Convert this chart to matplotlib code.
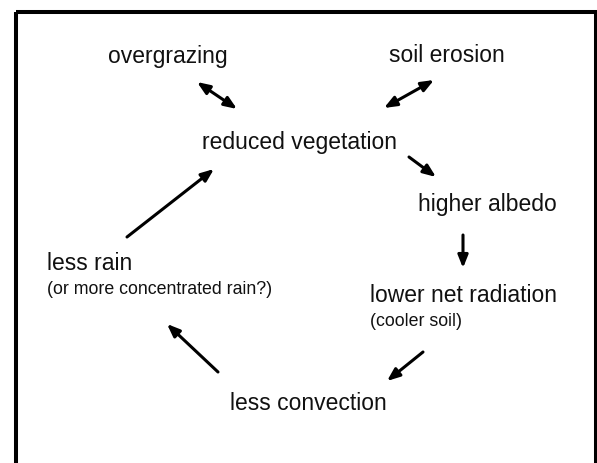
import matplotlib
matplotlib.use("Agg")
import matplotlib.pyplot as plt
from matplotlib.patches import FancyArrowPatch, Rectangle

# nodes of the feedback loop (label, x, y in pixel units of the picture)
big_labels = ["overgrazing", "soil erosion", "reduced vegetation", "higher albedo",
              "lower net radiation", "less convection", "less rain"]
big_x = [168, 447, 300, 487, 370, 308, 47]
big_y = [56, 56, 142, 204, 295, 404, 264]
big_ha = ["center", "center", "center", "center", "left", "center", "left"]

small_labels = ["(or more concentrated rain?)", "(cooler soil)"]
small_x = [47, 370]
small_y = [290, 322]

# arrows: start, end, two-headed or not
arr_start = [(197, 82), (434, 80), (409, 157), (463, 235), (423, 352), (218, 372), (127, 237)]
arr_end = [(237, 109), (384, 108), (436, 177), (463, 268), (387, 381), (167, 324), (214, 169)]
arr_both = [True, True, False, False, False, False, False]

plt.rcParams['font.family'] = ['Liberation Sans', 'DejaVu Sans']

fig = plt.figure(figsize=(5.97, 4.63), dpi=100)
ax = fig.add_axes([0, 0, 1, 1])
ax.set_xlim(0, 597)
ax.set_ylim(463, 0)
ax.axis('off')

# frame (bottom edge falls outside the picture)
ax.add_patch(Rectangle((16, 12), 580, 480, fill=False, lw=2.9, edgecolor='black'))

for lab, x, y, ha in zip(big_labels, big_x, big_y, big_ha):
    ax.text(x, y, lab, fontsize=16.5, ha=ha, va='center', color='#111111')

for lab, x, y in zip(small_labels, small_x, small_y):
    ax.text(x, y, lab, fontsize=12.8, ha='left', va='center', color='#111111')

for s, e, both in zip(arr_start, arr_end, arr_both):
    style = '<|-|>' if both else '-|>'
    ax.add_patch(FancyArrowPatch(s, e, arrowstyle=f'{style},head_length=0.75,head_width=0.3',
                                 mutation_scale=10, lw=2.2, color='black',
                                 shrinkA=0, shrinkB=0))

plt.savefig('out.png', dpi=100)
